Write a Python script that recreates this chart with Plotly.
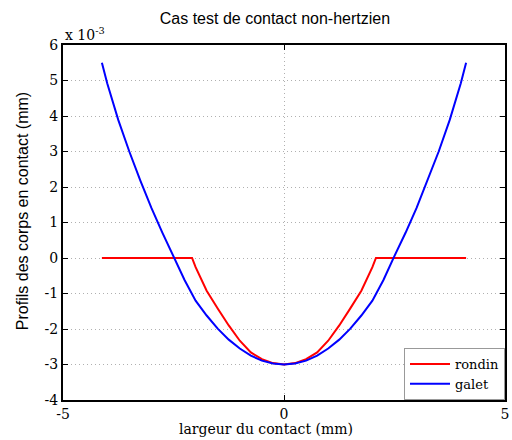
import plotly.graph_objects as go

# profils (y en 1e-3 mm)
x_galet = [-4.12, -4.0, -3.75, -3.5, -3.25, -3.0, -2.75, -2.5, -2.25, -2.0, -1.75, -1.5, -1.25, -1.0, -0.75, -0.5, -0.25,
           0.0, 0.25, 0.5, 0.75, 1.0, 1.25, 1.5, 1.75, 2.0, 2.25, 2.5, 2.75, 3.0, 3.25, 3.5, 3.75, 4.0, 4.12]
y_galet = [5.50, 4.92, 3.89, 3.00, 2.18, 1.41, 0.71, 0.06, -0.62, -1.20, -1.62, -1.99, -2.30, -2.55, -2.75, -2.89, -2.97,
           -3.00, -2.97, -2.89, -2.75, -2.55, -2.30, -1.99, -1.62, -1.20, -0.62, 0.06, 0.71, 1.41, 2.18, 3.00, 3.89, 4.92, 5.50]

x_rondin = [-4.12, -2.08, -2.0, -1.75, -1.5, -1.25, -1.0, -0.75, -0.5, -0.25,
            0.0, 0.25, 0.5, 0.75, 1.0, 1.25, 1.5, 1.75, 2.0, 2.08, 4.12]
y_rondin = [0.0, 0.0, -0.26, -0.92, -1.42, -1.90, -2.33, -2.66, -2.85, -2.96,
            -3.00, -2.96, -2.85, -2.66, -2.33, -1.90, -1.42, -0.92, -0.26, 0.0, 0.0]

x_ticks = [-5, 0, 5]
y_ticks = [-4, -3, -2, -1, 0, 1, 2, 3, 4, 5, 6]

serif = 'DejaVu Serif'
sans = 'Liberation Sans'

fig = go.Figure()
fig.add_trace(go.Scatter(x = x_rondin, y = y_rondin, mode = 'lines', name = 'rondin',
                         line = dict(color = '#ff0000', width = 2)))
fig.add_trace(go.Scatter(x = x_galet, y = y_galet, mode = 'lines', name = 'galet',
                         line = dict(color = '#0000ff', width = 2)))

axis_common = dict(
    showline = True, linecolor = 'black', linewidth = 2, mirror = 'ticks',
    ticks = 'inside', ticklen = 5, tickcolor = 'black', automargin = False,
    showgrid = True, gridcolor = '#b0b0b0', griddash = '1px,3px', gridwidth = 1,
    zeroline = False, tickfont = dict(family = serif, size = 14, color = 'black'))

fig.update_xaxes(range = [-5, 5], tickvals = x_ticks, ticktext = [str(v) for v in x_ticks], **axis_common)
fig.update_yaxes(range = [-4, 6], tickvals = y_ticks, ticktext = [str(v) for v in y_ticks], **axis_common)

fig.update_layout(
    width = 512, height = 440,
    margin = dict(l = 63, r = 7, t = 45, b = 40),
    paper_bgcolor = 'white', plot_bgcolor = 'white',
    title = dict(text = 'Cas test de contact non-hertzien', x = 0.537, xanchor = 'center', y = 0.958, yanchor = 'middle',
                 font = dict(family = sans, size = 16, color = 'black')),
    legend = dict(x = 1, xanchor = 'right', y = 0, yanchor = 'bottom', bgcolor = 'white',
                  bordercolor = '#999999', borderwidth = 1, tracegroupgap = 0, itemwidth = 40,
                  font = dict(family = serif, size = 13, color = 'black')),
    showlegend = True)

fig.add_annotation(text = 'x 10<sup>-3</sup>', xref = 'paper', yref = 'paper', x = 0, y = 1, xanchor = 'left',
                   yanchor = 'bottom', showarrow = False, font = dict(family = serif, size = 14, color = 'black'))
fig.add_annotation(text = 'largeur du contact (mm)', xref = 'paper', yref = 'paper', x = 0.46, y = 0, yshift = -29,
                   xanchor = 'center', yanchor = 'middle', showarrow = False,
                   font = dict(family = serif, size = 14, color = 'black'))
fig.add_annotation(text = 'Profils des corps en contact (mm)', xref = 'paper', yref = 'paper', x = 0, xshift = -41,
                   y = 0.532, xanchor = 'center', yanchor = 'middle', textangle = -90, showarrow = False,
                   font = dict(family = sans, size = 16, color = 'black'))

fig.write_html('out.html', config = {'displayModeBar': False},
               post_script = "document.body.style.margin='0';document.body.style.overflow='hidden';")
